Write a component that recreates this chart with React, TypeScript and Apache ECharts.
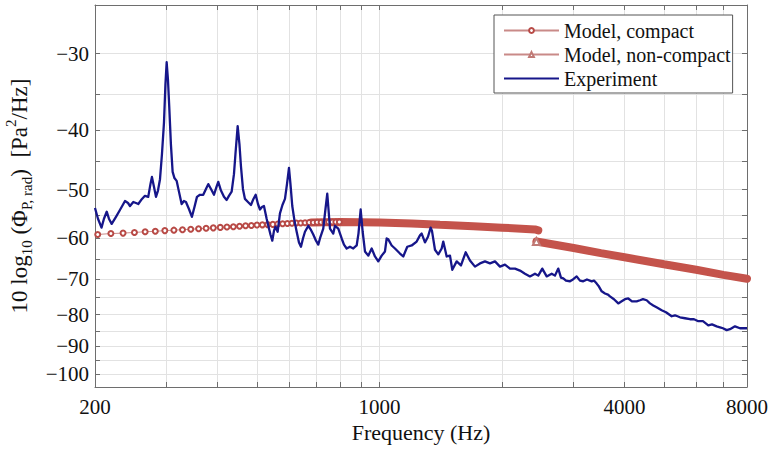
import React, { useEffect, useRef } from "react";
import * as echarts from "echarts";

// Frequency range (Hz) and level range (dB) of the plot box
const FREQ_MIN = 200;
const FREQ_MAX = 8000;
const LEVEL_TOP = -25;
const LEVEL_BOTTOM = -105;

// Axis ticks and labels
const xTickFreqs = [200, 300, 400, 500, 600, 700, 800, 900, 1000, 2000, 3000, 4000, 5000, 6000, 7000, 8000];
const xLabelFreqs = [200, 1000, 4000, 8000];
const yTickLevels = [-30, -35, -40, -45, -50, -55, -60, -65, -70, -75, -80, -85, -90, -95, -100];
const yLabelLevels = [-30, -40, -50, -60, -70, -80, -90, -100];

// Measured radiated pressure spectrum: [frequency Hz, level dB]
const experiment: [number, number][] = [
  [200, -53.6], [203.4, -55.8], [207.5, -57.7], [210.4, -55.8], [213.7, -54.35], [216.4, -55.8],
  [219.8, -56.9], [225.2, -55.4], [230.3, -54.0], [237, -52.2], [241.1, -52.6], [243.8, -53.2],
  [248.4, -52.4], [252.2, -52.6], [255.5, -52.8], [260.9, -51.8], [265.3, -51.2], [270.3, -51.4],
  [273.7, -49.0], [276, -47.7], [279.2, -49.5], [282.4, -51.4], [285.6, -50.2], [288.9, -48.1],
  [292.1, -43.8], [295.5, -38.85], [297.9, -33.7], [300, -31.0], [302.2, -33.1], [304.4, -36.6],
  [307.3, -42.2], [310.3, -46.8], [313.5, -47.9], [317.4, -48.4], [321.6, -50.4], [326.5, -52.8],
  [330.8, -52.2], [334.6, -52.4], [340.3, -53.8], [346.1, -55.4], [351.1, -53.4], [356.1, -51.4],
  [362.2, -51.0], [369, -51.0], [374.7, -49.9], [379.6, -49.0], [385.5, -49.9], [392.1, -51.0],
  [397.7, -49.5], [401.7, -48.6], [407.9, -50.2], [414.9, -51.4], [421.2, -52.0], [426.7, -51.2],
  [433.3, -50.4], [439, -47.2], [442.7, -43.8], [448.3, -39.4], [452.9, -42.2], [456.7, -45.8],
  [461.9, -49.9], [467.2, -51.8], [475.2, -52.4], [483.3, -53.0], [490.2, -51.8], [496.4, -51.0],
  [502.9, -52.8], [508.6, -53.9], [514.4, -53.4], [520.2, -53.2], [528.2, -55.8], [535.2, -57.9],
  [539.7, -59.2], [545.3, -60.6], [550.5, -58.4], [555.2, -57.5], [562.1, -58.6], [569.5, -54.7],
  [577.6, -53.0], [585.9, -51.8], [592.6, -49.0], [599.3, -46.1], [604.4, -49.0], [610.6, -53.2],
  [618.2, -56.2], [626, -58.6], [634.2, -61.0], [641.4, -62.0], [648.7, -60.1], [656.1, -58.6],
  [668.5, -57.3], [678.7, -58.2], [687.6, -59.2], [698.3, -60.6], [707.4, -61.5], [714.2, -60.1],
  [727.6, -57.9], [736.8, -53.8], [744.3, -50.8], [749.4, -53.8], [755.8, -57.9], [770, -59.0],
  [777.5, -57.3], [792.2, -57.9], [807.5, -60.1], [818.1, -61.5], [830.6, -62.4], [846.3, -62.0],
  [862.2, -62.4], [879, -61.7], [888, -59.0], [892, -57.1], [899.1, -53.9], [909.3, -58.6],
  [921.3, -63.1], [938.7, -64.1], [956.9, -62.4], [974.9, -64.3], [993.3, -65.5], [1012.6, -64.1],
  [1031.7, -63.1], [1041.6, -60.1], [1051.2, -60.3], [1071.6, -61.7], [1091.7, -62.4], [1123, -63.6],
  [1144.1, -64.3], [1170.4, -62.0], [1200, -61.7], [1234.3, -60.8], [1257.6, -59.4], [1269.7, -59.0],
  [1293.7, -61.0], [1315.9, -59.7], [1336, -57.7], [1346, -58.4], [1369, -62.7], [1394.8, -63.8],
  [1421.9, -62.4], [1434.7, -60.8], [1462.7, -64.3], [1490.3, -64.1], [1509.8, -67.6], [1547.8, -65.5],
  [1585.9, -66.5], [1628.7, -63.3], [1668.7, -65.3], [1716.7, -66.8], [1766, -66.0], [1816.6, -65.5],
  [1868.7, -66.0], [1922.3, -65.5], [1977.5, -66.8], [2034.2, -66.3], [2092.6, -67.3], [2152.6, -67.3],
  [2214.4, -67.8], [2277.9, -68.6], [2343.2, -69.3], [2410.5, -68.6], [2456, -69.1], [2512.1, -67.3],
  [2575.4, -69.3], [2649.3, -68.6], [2699.3, -69.1], [2750.2, -67.3], [2792.4, -69.6], [2829, -69.8],
  [2872.7, -70.4], [2938.4, -70.6], [2988.5, -70.1], [3051.9, -69.3], [3109.5, -70.4], [3167.9, -70.6],
  [3235.1, -70.1], [3322.3, -70.6], [3365.7, -70.4], [3417.6, -71.2], [3462.3, -72.0], [3515.7, -73.3],
  [3581.9, -73.9], [3643.3, -74.2], [3684.7, -74.7], [3768.9, -75.5], [3862, -76.7], [3936.8, -76.1],
  [4011.1, -75.5], [4086.8, -75.3], [4173.1, -76.1], [4285.4, -76.1], [4366.3, -75.8], [4440.8, -75.5],
  [4535, -75.8], [4620.5, -76.7], [4707.3, -77.3], [4807.1, -77.9], [4936.7, -78.7], [5058.5, -79.3],
  [5224.1, -80.5], [5322.5, -80.2], [5475.3, -80.8], [5632.4, -81.1], [5794.1, -81.4], [5926.5, -81.4],
  [6072.8, -82.0], [6235.9, -82.0], [6426.2, -83.3], [6562, -83.0], [6738.7, -83.6], [6866, -83.9],
  [6982.9, -84.2], [7131, -84.8], [7265.7, -84.5], [7474, -83.6], [7688.6, -84.2], [7909.1, -84.2],
  [8000, -84.2],
];

// Compact model, sparse low-frequency samples (drawn with circle markers)
const compactMarkFreq = [
  203.1, 218.8, 234.4, 250, 265.6, 281.3, 296.9, 312.5, 328.1, 343.8, 359.4, 375, 390.6,
  406.3, 421.9, 437.5, 453.1, 468.8, 484.4, 500, 515.6, 531.3, 546.9, 562.5, 578.1, 593.8,
  609.4, 625, 640.6, 656.3, 671.9, 687.5, 703.1, 718.8, 734.4, 750, 765.6, 781.3, 796.9,
];
const compactMarkLevel = [
  -59.2, -59.0, -58.9, -58.75, -58.6, -58.5, -58.35, -58.25, -58.15, -58.05, -57.95, -57.85, -57.75,
  -57.65, -57.55, -57.5, -57.4, -57.3, -57.25, -57.15, -57.1, -57.05, -57.0, -56.9, -56.85, -56.8,
  -56.75, -56.7, -56.7, -56.65, -56.6, -56.6, -56.55, -56.55, -56.5, -56.5, -56.5, -56.5, -56.5,
];
// Compact model where the markers merge into a solid band
const compactBandFreq = [680, 800, 1000, 1200, 1408, 1700, 2000, 2410, 2456];
const compactBandLevel = [-56.6, -56.5, -56.6, -56.8, -57.1, -57.4, -57.7, -58.1, -58.3];

// Non-compact model
const nonCompactFreq = [2430, 3000, 3500, 4000, 5000, 6000, 7000, 8000];
const nonCompactLevel = [-60.8, -62.3, -63.5, -64.5, -66.2, -67.6, -68.9, -69.9];

const FONT = "Liberation Serif";
const TEXT = "#111111";
const AXIS_GRAY = "#6e6e6e";
const GRID_GRAY = "#e2e2e2";
const MODEL_RED = "#c4534b";
const EXP_BLUE = "#16168a";

const serif = (size: number) => ({ fontFamily: FONT, fontSize: size, color: TEXT });

const lx = (f: number) => Math.log10(f);
const ly = (v: number) => Math.log10(-v);
const pts = (fs: number[], vs: number[]) => fs.map((f, i) => [lx(f), ly(vs[i])]);

export default function App() {
  const ref = useRef<HTMLDivElement>(null);

  useEffect(() => {
    if (!ref.current) return;
    const chart = echarts.init(ref.current, null, { renderer: "svg" });

    const xTicks = xTickFreqs.map(lx);
    const xLabels = xLabelFreqs.map(lx);
    const yTicks = yTickLevels.map(ly);
    const yLabels = yLabelLevels.map(ly);

    const baseX = {
      type: "value" as const,
      min: lx(FREQ_MIN),
      max: lx(FREQ_MAX),
      axisLine: { show: true, lineStyle: { color: AXIS_GRAY, width: 1 } },
      axisTick: { show: true, inside: true, length: 5, customValues: xTicks, lineStyle: { color: AXIS_GRAY } },
    };
    const baseY = {
      type: "value" as const,
      inverse: true,
      min: ly(LEVEL_TOP),
      max: ly(LEVEL_BOTTOM),
      axisLine: { show: true, lineStyle: { color: AXIS_GRAY, width: 1 } },
      axisTick: { show: true, inside: true, length: 5, customValues: yTicks, lineStyle: { color: AXIS_GRAY } },
    };

    chart.setOption({
      animation: false,
      textStyle: { fontFamily: FONT, color: TEXT },
      grid: { left: 95, right: 29, top: 5, bottom: 69, containLabel: false, outerBoundsMode: "none" },
      legend: {
        data: [
          { name: "Model, compact" },
          { name: "Model, non-compact" },
          { name: "Experiment", itemStyle: { opacity: 0 } },
        ],
        orient: "vertical",
        left: 494,
        top: 15,
        backgroundColor: "#ffffff",
        borderColor: "#555555",
        borderWidth: 1,
        borderRadius: 0,
        padding: [5, 2, 4, 9],
        itemWidth: 55,
        itemHeight: 6,
        itemGap: 3,
        selectedMode: false,
        textStyle: { ...serif(20), lineHeight: 21 },
      },
      xAxis: [
        {
          ...baseX,
          position: "bottom",
          name: "Frequency (Hz)",
          nameLocation: "middle",
          nameGap: 25,
          nameTextStyle: serif(22),
          axisLabel: {
            show: true,
            customValues: xLabels,
            margin: 9,
            ...serif(21),
            formatter: (v: number) => String(Math.round(Math.pow(10, v))),
          },
          splitLine: { show: true, lineStyle: { color: GRID_GRAY, width: 1 } },
        },
        {
          ...baseX,
          position: "top",
          axisLabel: { show: false },
          splitLine: { show: false },
        },
      ],
      yAxis: [
        {
          ...baseY,
          position: "left",
          name: "10 log{sub|10} (Φ{sub|P, rad})  [Pa{sup|2}/Hz]",
          nameLocation: "middle",
          nameRotate: 90,
          nameGap: 59,
          nameTextStyle: {
            ...serif(23),
            lineHeight: 31,
            rich: {
              sub: { ...serif(15), lineHeight: 16, verticalAlign: "bottom" },
              sup: { ...serif(15), lineHeight: 16, verticalAlign: "top" },
            },
          },
          axisLabel: {
            show: true,
            customValues: yLabels,
            margin: 6,
            ...serif(21),
            formatter: (v: number) => "\u2212" + Math.round(Math.pow(10, v)),
          },
          splitLine: { show: true, lineStyle: { color: GRID_GRAY, width: 1 } },
        },
        {
          ...baseY,
          position: "right",
          axisLabel: { show: false },
          splitLine: { show: false },
        },
      ],
      series: [
        {
          name: "Model, compact",
          type: "line",
          data: pts(compactMarkFreq, compactMarkLevel),
          symbol: "emptyCircle",
          symbolSize: 5,
          showAllSymbol: true,
          lineStyle: { color: "#c98a88", width: 1 },
          itemStyle: { color: "#b84a46", borderWidth: 1 },
          z: 4,
          silent: true,
        },
        {
          name: "Model, compact",
          type: "line",
          data: pts(compactBandFreq, compactBandLevel),
          symbol: "none",
          lineStyle: { color: MODEL_RED, width: 8, cap: "round" },
          itemStyle: { color: MODEL_RED },
          z: 3,
          silent: true,
        },
        {
          name: "Model, non-compact",
          type: "line",
          data: pts(nonCompactFreq.slice(0, 1), nonCompactLevel.slice(0, 1)),
          symbol: "emptyTriangle",
          symbolSize: 7,
          lineStyle: { color: "#c98a88", width: 1 },
          itemStyle: { color: "#c07a76", borderWidth: 1 },
          z: 4,
          silent: true,
        },
        {
          name: "Model, non-compact",
          type: "line",
          data: pts(nonCompactFreq, nonCompactLevel),
          symbol: "none",
          lineStyle: { color: MODEL_RED, width: 8, cap: "round" },
          itemStyle: { color: MODEL_RED },
          z: 3,
          silent: true,
        },
        {
          name: "Experiment",
          type: "line",
          data: experiment.map(([f, v]) => [lx(f), ly(v)]),
          symbol: "none",
          lineStyle: { color: EXP_BLUE, width: 2.3, join: "round" },
          itemStyle: { color: EXP_BLUE },
          z: 5,
          silent: true,
        },
      ],
    });

    return () => chart.dispose();
  }, []);

  return (
    <div
      ref={ref}
      style={{ position: "fixed", left: 0, top: 0, width: 776, height: 456, background: "#ffffff" }}
    />
  );
}
